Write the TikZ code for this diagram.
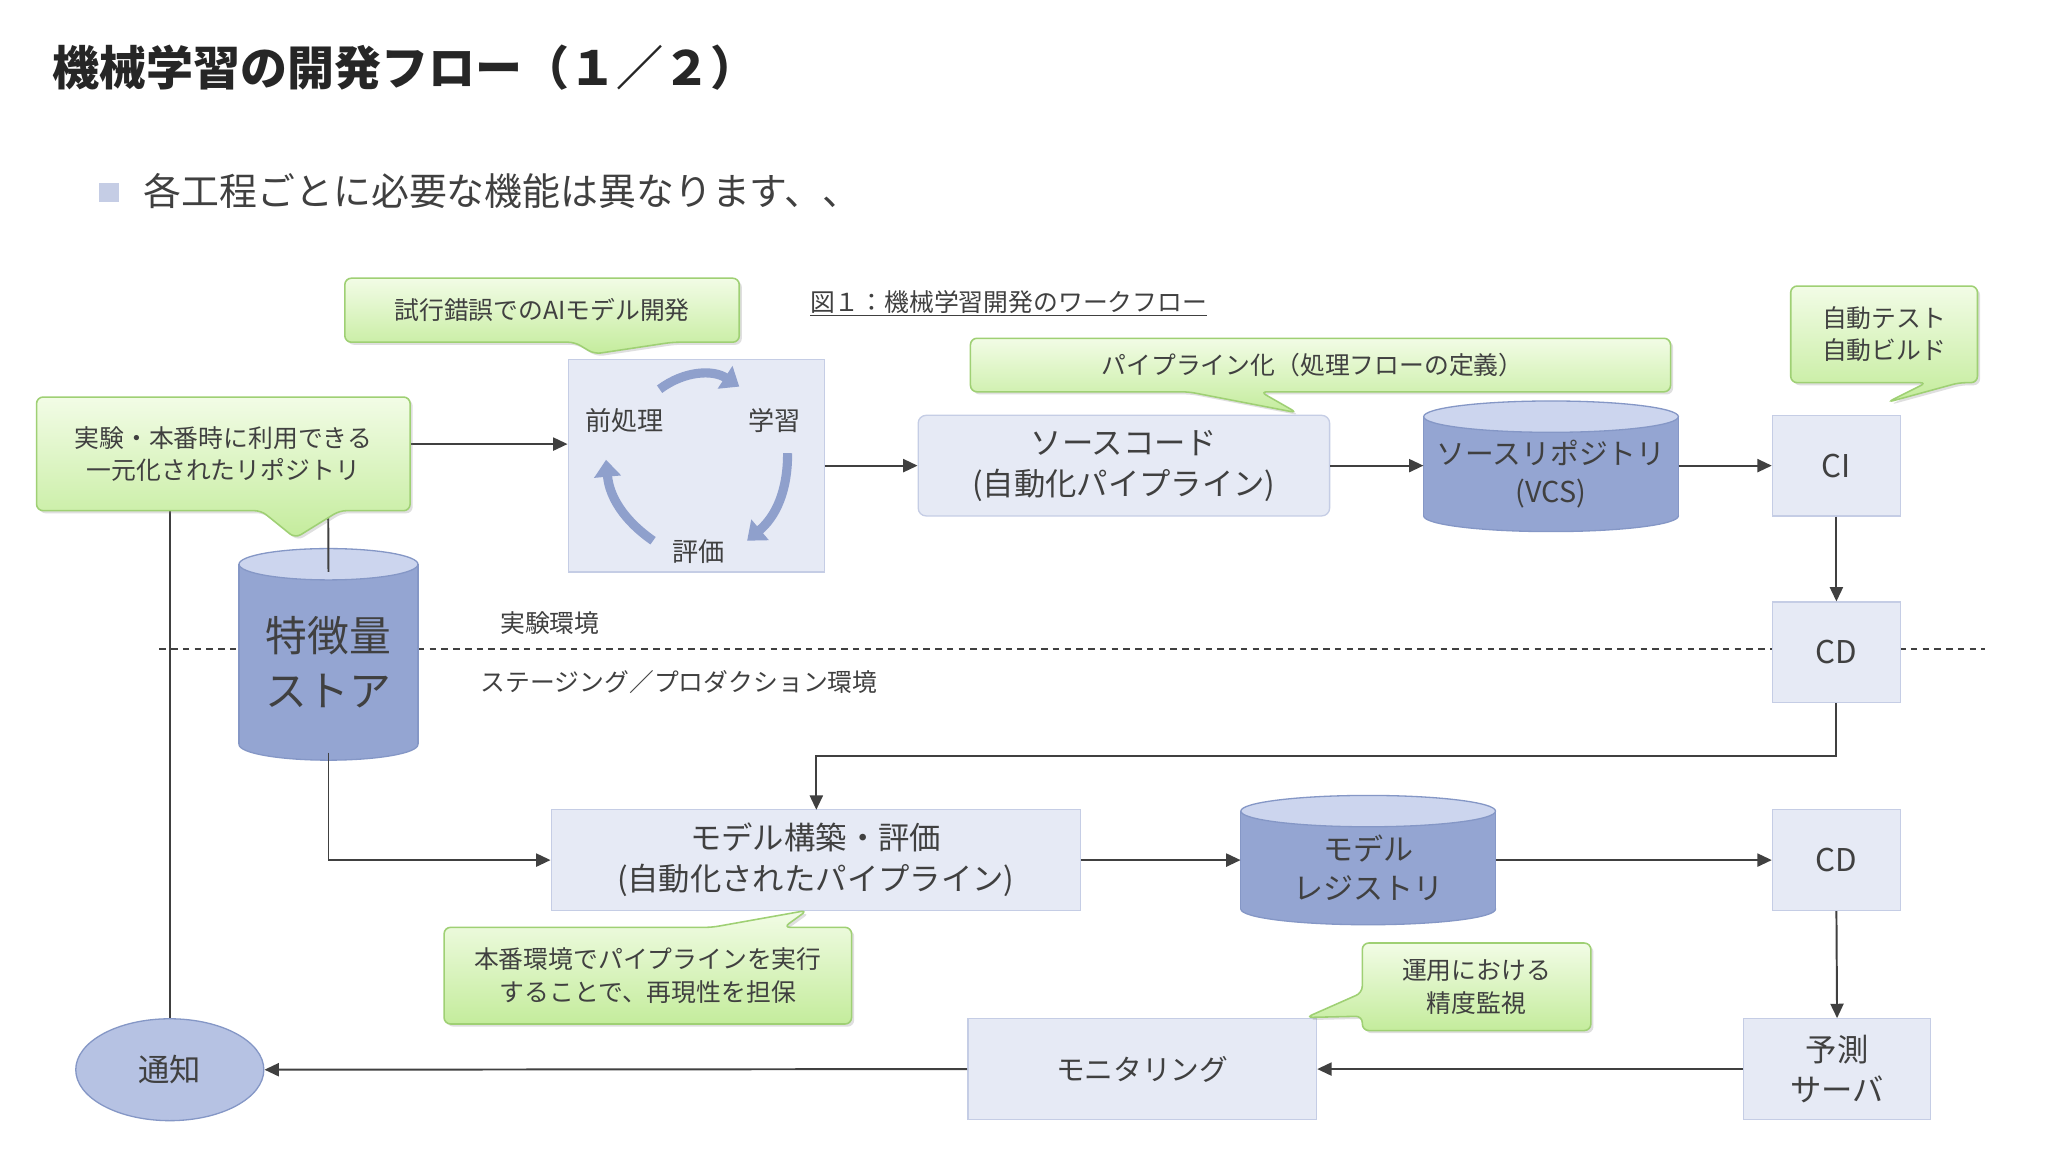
\documentclass[tikz,border=0pt]{standalone}
\usepackage{fontspec}
\setmainfont{Noto Sans CJK JP}
\usetikzlibrary{arrows.meta,shadows,shapes.geometric}
\definecolor{txt}{HTML}{404040}
\definecolor{boxfill}{HTML}{E6EAF5}
\definecolor{boxline}{HTML}{C5CDE5}
\definecolor{cylfill}{HTML}{94A5D2}
\definecolor{cyltop}{HTML}{CCD5EE}
\definecolor{cylline}{HTML}{8597C6}
\definecolor{cgtop}{HTML}{F2FCE6}
\definecolor{cgbot}{HTML}{C4EC9C}
\definecolor{cgline}{HTML}{9FD074}
\definecolor{cyc}{HTML}{8FA0CC}
\newcommand\fs[1]{\fontsize{#1}{\dimexpr #1pt*13/10\relax}\selectfont}
\tikzset{
  box/.style={fill=boxfill,draw=boxline,line width=1pt,text=txt,align=center,font=\fs{22}},
  lbl/.style={text=txt,font=\fs{19},inner sep=0pt},
  callout/.style={top color=cgtop,bottom color=cgbot,draw=cgline,line width=1.2pt,rounded corners=5pt,
    drop shadow={shadow xshift=2pt,shadow yshift=-2pt,opacity=0.25}},
  ctext/.style={text=txt,align=center,font=\fs{19},inner sep=0pt},
  arr/.style={draw=txt,line width=1.5pt,-{Triangle[length=11pt,width=10pt]}},
  ln/.style={draw=txt,line width=1.5pt},
}
\newcommand\cyl[7]{% name, x1, x2, ytop, ybot, font size, text
  \filldraw[fill=cylfill,draw=cylline,line width=1pt] ({(#2+#3)/2},#5) ellipse [x radius={(#3-#2)/2}, y radius=12];
  \fill[cylfill] (#2,#4) rectangle (#3,#5);
  \draw[cylline,line width=1pt] (#2,#4) -- (#2,#5) (#3,#4) -- (#3,#5);
  \filldraw[fill=cyltop,draw=cylline,line width=1pt] ({(#2+#3)/2},#4) ellipse [x radius={(#3-#2)/2}, y radius=12];
  \node[text=txt,align=center,font=\fs{#6},minimum width={(#3-#2)*1pt},minimum height={(#5-#4)*1pt},inner sep=0pt]
    (#1) at ({(#2+#3)/2},{(#4+#5)/2+6}) {#7};
}
\begin{document}
\begin{tikzpicture}[x=1pt,y=-1pt]
\useasboundingbox[fill=white] (0,0) rectangle (1568,882);
% title and bullet
\node[anchor=west,font=\fs{36}\bfseries,text=black!85,inner sep=0pt] (title) at (40,52) {機械学習の開発フロー（１／２）};
\fill[boxline] (76,140) rectangle (91,155);
\node[anchor=west,font=\fs{29},text=txt,inner sep=0pt] (bullet) at (110,146) {各工程ごとに必要な機能は異なります、、};
\node[anchor=west,lbl,font=\fs{19}] (cap) at (620,232) {\underline{図１：機械学習開発のワークフロー}};
% environment split
\draw[txt,line width=1pt,dash pattern=on 5pt off 4pt] (122,497) -- (1520,497);
\node[lbl] (exp) at (421,477) {実験環境};
\node[lbl] (stg) at (520,522) {ステージング／プロダクション環境};
% cycle box
\node[box,minimum width=196pt,minimum height=163pt] (cycle) at (533,356.5) {};
\node[lbl,font=\fs{20}] (pre) at (478,322) {前処理};
\node[lbl,font=\fs{20}] (learn) at (593,322) {学習};
\node[lbl,font=\fs{20}] (eval) at (535,422) {評価};
\draw[cyc,line width=7pt,-{Triangle[length=13pt,width=20pt]}] (505,298) to[bend left=35] (566,296);
\draw[cyc,line width=7pt,-{Triangle[length=13pt,width=20pt]}] (603,347) to[bend left=25] (572,414);
\draw[cyc,line width=7pt,-{Triangle[length=13pt,width=20pt]}] (500,414) to[bend left=25] (464,352);
% boxes
\node[box,rounded corners=6pt,minimum width=315pt,minimum height=77pt,font=\fs{24}] (src) at (860.5,356.5) {ソースコード\\(自動化パイプライン)};
\node[box,minimum width=98pt,minimum height=77pt,font=\fs{24}] (ci) at (1406,356.5) {CI};
\node[box,minimum width=98pt,minimum height=77pt,font=\fs{24}] (cd1) at (1406,499.5) {CD};
\node[box,minimum width=405pt,minimum height=77pt,font=\fs{24}] (build) at (624.5,658.5) {モデル構築・評価\\(自動化されたパイプライン)};
\node[box,minimum width=98pt,minimum height=77pt,font=\fs{24}] (cd2) at (1406,658.5) {CD};
\node[box,minimum width=143pt,minimum height=77pt,font=\fs{24}] (pred) at (1406.5,818.5) {予測\\サーバ};
\node[box,minimum width=267pt,minimum height=77pt] (mon) at (874.5,818.5) {モニタリング};
\node[ellipse,fill=cyltop!60!cylfill,draw=cylline,line width=1pt,minimum width=144pt,minimum height=78pt,text=txt,font=\fs{24}] (notify) at (130,819) {通知};
\cyl{vcs}{1090}{1285}{319}{395}{22}{ソースリポジトリ\\(VCS)}
\cyl{fs}{183}{320}{432}{570}{32}{特徴量\\ストア}
\cyl{reg}{950}{1145}{621}{696}{23}{モデル\\レジストリ}
% connectors
\coordinate (fsup) at (251,340);
\draw[ln] (fs.north) -- (fsup);
\draw[arr] (fsup) -- (cycle.west |- fsup);
\draw[ln] (130,340) -- (notify.north);
\draw[arr] (cycle.east |- src) -- (src.west);
\draw[arr] (src.east) -- (vcs.west |- src);
\draw[arr] (vcs.east |- src) -- (ci.west);
\draw[arr] (ci.south) -- (cd1.north);
\draw[arr] (cd1.south) |- (625,579) -- (625,620);
\draw[arr] (fs.south) |- (build.west);
\draw[arr] (build.east) -- (reg.west |- build);
\draw[arr] (reg.east |- build) -- (cd2.west);
\draw[arr] (cd2.south) -- (pred.north);
\draw[arr] (pred.west) -- (mon.east);
\draw[arr] (mon.west) -- (notify.east);
% callouts
\path[callout] (264,213) -- (566,213) -- (566,262) -- (515,262) -- (455,271) -- (440,262) -- (264,262) -- cycle;
\node[ctext] (c1) at (415,237.5) {試行錯誤でのAIモデル開発};
\path[callout] (743,259) -- (1279,259) -- (1279,300) -- (965,300) -- (993,316) -- (910,300) -- (743,300) -- cycle;
\node[ctext] (c2) at (1005,279.5) {パイプライン化（処理フローの定義）};
\path[callout] (1371,219) -- (1514,219) -- (1514,293) -- (1500,293) -- (1445,308) -- (1475,293) -- (1371,293) -- cycle;
\node[ctext] (c3) at (1442.5,256) {自動テスト\\自動ビルド};
\path[callout] (28,304) -- (314,304) -- (314,391) -- (260,391) -- (226,412) -- (200,391) -- (28,391) -- cycle;
\node[ctext] (c4) at (171,347.5) {実験・本番時に利用できる\\一元化されたリポジトリ};
\path[callout] (340,710) -- (545,710) -- (618,697) -- (600,710) -- (652,710) -- (652,784) -- (340,784) -- cycle;
\node[ctext] (c5) at (496,747) {本番環境でパイプラインを実行\\することで、再現性を担保};
\path[callout] (1043,722) -- (1218,722) -- (1218,789) -- (1043,789) -- (1043,778) -- (1000,779) -- (1043,760) -- cycle;
\node[ctext] (c6) at (1130.5,755.5) {運用における\\精度監視};
\end{tikzpicture}
\end{document}
